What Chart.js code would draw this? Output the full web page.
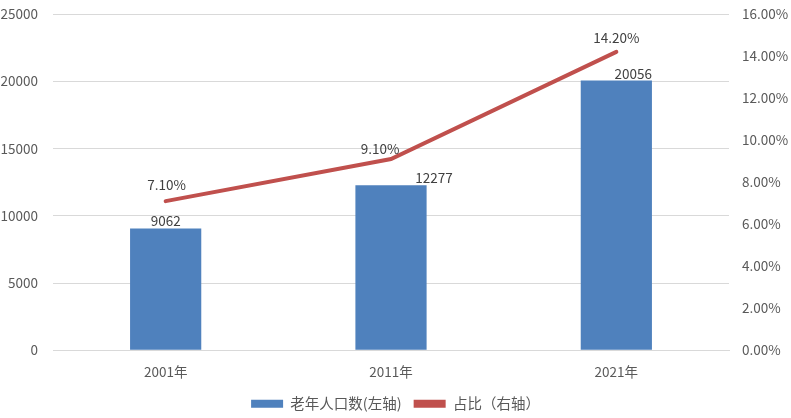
<!DOCTYPE html>
<html><head><meta charset="utf-8">
<script src="https://cdn.jsdelivr.net/npm/chart.js@4"></script>
<style>html,body{margin:0;padding:0;background:#fff;overflow:hidden}#w{width:791px;height:430px;margin-top:-9px}</style>
</head><body><div id="w"><canvas id="c"></canvas></div>
<script>
const categories = ['2001年','2011年','2021年'];
const elderly = [9062, 12277, 20056];
const share = [7.10, 9.10, 14.20];
const leftTicks = [0,5000,10000,15000,20000,25000];
const rightTicks = [0,2,4,6,8,10,12,14,16];
const barLabelDx = [0, 43, 17];
const barLabelDy = [-8, -7, -7];
const lineLabelDx = [1, -11, 0];
const lineLabelDy = [-16, -10, -14];

const FONT = '"Microsoft YaHei","Noto Sans CJK SC","DejaVu Sans",sans-serif';
const labelPlugin = {
  id:'labels',
  afterDatasetsDraw(chart){
    const ctx = chart.ctx;
    ctx.save();
    ctx.font = '13.5px ' + FONT;
    ctx.fillStyle = '#404040';
    ctx.textAlign = 'center';
    ctx.textBaseline = 'middle';
    const bars = chart.getDatasetMeta(0).data;
    bars.forEach((b,i)=>{ ctx.fillText(String(elderly[i]), b.x + barLabelDx[i], b.y + barLabelDy[i]); });
    const pts = chart.getDatasetMeta(1).data;
    pts.forEach((p,i)=>{ ctx.fillText(share[i].toFixed(2)+'%', p.x + lineLabelDx[i], p.y + lineLabelDy[i]); });
    ctx.restore();
  }
};

new Chart(document.getElementById('c'), {
  data:{
    labels:categories,
    datasets:[
      {type:'bar', label:'老年人口数(左轴)', data:elderly, backgroundColor:'#4F81BD', yAxisID:'y', categoryPercentage:1, barPercentage:0.316, order:2},
      {type:'line', label:'占比（右轴）', data:share, borderColor:'#C0504D', backgroundColor:'#C0504D', borderWidth:4, pointRadius:0, yAxisID:'y1', order:1, borderCapStyle:'round'}
    ]
  },
  options:{
    responsive:true, maintainAspectRatio:false, animation:false,
    layout:{padding:{top:0,left:0,right:0,bottom:0}},
    plugins:{
      tooltip:{enabled:false},
      legend:{position:'bottom', labels:{
        font:{size:14.5, family:FONT}, color:'#595959', boxWidth:32, boxHeight:8, padding:12,
        generateLabels(chart){
          return chart.data.datasets.map((d,i)=>({text:d.label, fillStyle:d.type==='bar'?'#4F81BD':'#C0504D', strokeStyle:'rgba(0,0,0,0)', lineWidth:0, datasetIndex:i, fontColor:'#595959'}));
        }
      }}
    },
    scales:{
      x:{grid:{display:false}, border:{color:'#D9D9D9'}, ticks:{font:{size:13.5,family:FONT}, color:'#595959', padding:5}},
      y:{position:'left', min:0, max:25000, afterBuildTicks(s){s.ticks=leftTicks.map(v=>({value:v}));},
         afterFit(s){s.width=53;}, grid:{color:'#D9D9D9', drawTicks:false}, border:{display:false},
         ticks:{font:{size:13.5,family:FONT}, color:'#595959', padding:15, callback:v=>String(v)}},
      y1:{position:'right', min:0, max:16, afterBuildTicks(s){s.ticks=rightTicks.map(v=>({value:v}));},
         afterFit(s){s.width=62;}, grid:{display:false, drawTicks:false}, border:{display:false},
         ticks:{font:{size:13.5,family:FONT}, color:'#595959', padding:13, callback:v=>v.toFixed(2)+'%'}}
    }
  },
  plugins:[labelPlugin]
});
</script></body></html>
